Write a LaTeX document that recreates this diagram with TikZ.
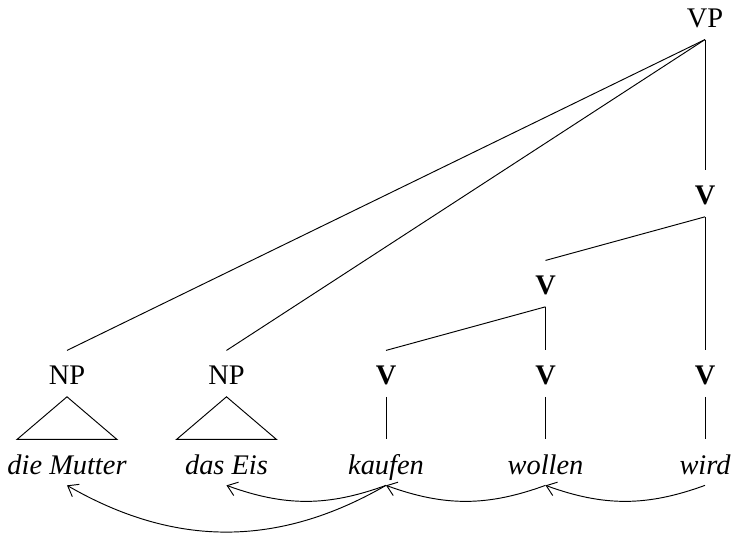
\documentclass[tikz,border=0pt,12pt]{standalone}
\usepackage{fontspec}
\setmainfont{Liberation Serif}
\usepackage{tikz}
\usetikzlibrary{arrows.meta,positioning}

\begin{document}
\begin{tikzpicture}[x=2.369cm, y=1.3365cm,
  cat/.style={inner sep=0pt, anchor=base, text height=14.4pt, text depth=4.8pt},
  word/.style={inner sep=0pt, anchor=base, font=\itshape, text height=14.8pt, text depth=4.2pt},
  move/.style={-{Straight Barb[length=4pt,width=6pt]}}]
  \useasboundingbox (-0.42,-0.667) rectangle (4.1755,5.278);
  \node[cat] (vp) at (4,4.97) {VP};
  \node[cat] (vtop) at (4,3) {\textbf{V}};
  \node[cat] (vmid) at (3,2) {\textbf{V}};
  \node[cat] (npMutter) at (0,1) {NP};
  \node[cat] (npEis) at (1,1) {NP};
  \node[cat] (vKaufen) at (2,1) {\textbf{V}};
  \node[cat] (vWollen) at (3,1) {\textbf{V}};
  \node[cat] (vWird) at (4,1) {\textbf{V}};
  \node[word] (mutter) at (0,0) {die Mutter};
  \node[word] (eis) at (1,0) {das Eis};
  \node[word] (kaufen) at (2,0) {kaufen};
  \node[word] (wollen) at (3,0) {wollen};
  \node[word] (wird) at (4,0) {wird};
  \draw (vp.south) -- (npMutter.north);
  \draw (vp.south) -- (npEis.north);
  \draw (vp.south) -- (vtop.north);
  \draw (vtop.south) -- (vmid.north);
  \draw (vtop.south) -- (vWird.north);
  \draw (vmid.south) -- (vKaufen.north);
  \draw (vmid.south) -- (vWollen.north);
  \draw (npMutter.south) -- ([xshift=-0.7425cm]mutter.north) -- ([xshift=0.7425cm]mutter.north) -- cycle;
  \draw (npEis.south) -- ([xshift=-0.7425cm]eis.north) -- ([xshift=0.7425cm]eis.north) -- cycle;
  \draw (vKaufen.south) -- (kaufen.north);
  \draw (vWollen.south) -- (wollen.north);
  \draw (vWird.south) -- (wird.north);
  \draw[move] (wird.south) to[bend left=20] (wollen.south);
  \draw[move] (wollen.south) to[bend left=20] (kaufen.south);
  \draw[move] (kaufen.south) to[bend left=20] (eis.south);
  \draw[move] (kaufen.south) to[bend left=30] (mutter.south);
\end{tikzpicture}
\end{document}
